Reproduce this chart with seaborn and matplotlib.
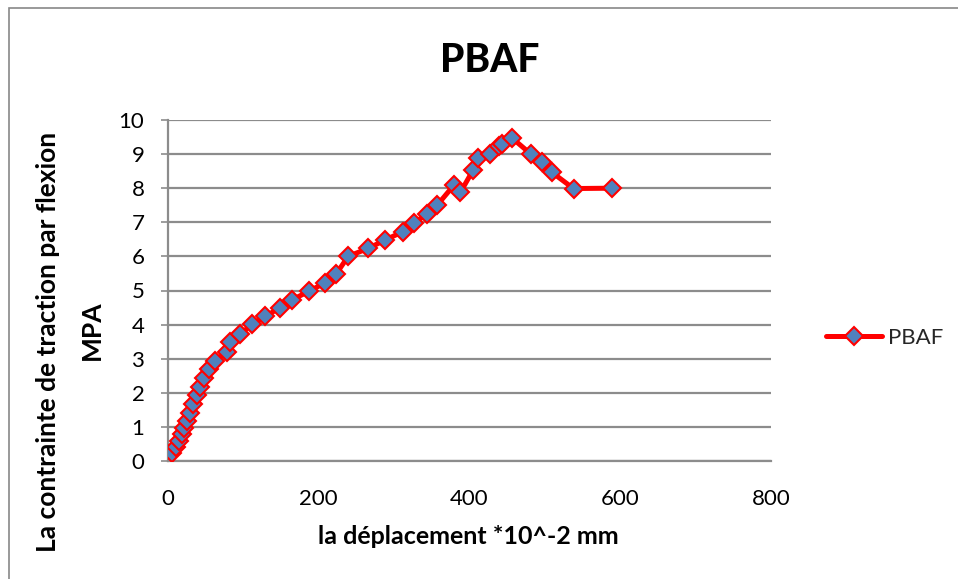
import matplotlib
matplotlib.use("Agg")
import matplotlib.pyplot as plt
import pandas as pd
import seaborn as sns
from matplotlib.patches import Rectangle

# Displacement (x 10^-2 mm) and flexural tensile stress (MPa)
deplacement = [5, 10, 15, 18, 21, 25, 29, 33, 38, 43, 48, 54, 62, 78, 82, 96,
               112, 129, 149, 165, 187, 208, 223, 239, 266, 288, 312, 326,
               344, 357, 379, 388, 405, 411, 427, 439, 443, 456, 482, 496,
               509, 538, 589]
contrainte = [0.22, 0.42, 0.6, 0.78, 0.97, 1.17, 1.42, 1.68, 1.94, 2.17, 2.43,
              2.7, 2.93, 3.2, 3.5, 3.72, 4.02, 4.24, 4.5, 4.73, 4.98, 5.22,
              5.48, 6.0, 6.24, 6.48, 6.73, 6.98, 7.24, 7.5, 8.08, 7.88, 8.54,
              8.88, 9.0, 9.24, 9.3, 9.48, 8.99, 8.76, 8.47, 7.99, 8.0]
serie = "PBAF"

x_ticks = [0, 200, 400, 600, 800]
y_ticks = list(range(0, 11))

df = pd.DataFrame({"deplacement": deplacement, "contrainte": contrainte})

sns.set_theme(style="white")
plt.rcParams["font.family"] = ["Lato", "DejaVu Sans"]

W, H = 958, 579
fig = plt.figure(figsize=(W / 100, H / 100), dpi=100)
fig.patch.set_facecolor("white")

# chart frame
fig.patches.append(Rectangle((9 / W, -0.05), 1.2, 1 - 8 / H + 0.05,
                             transform=fig.transFigure, fill=False,
                             edgecolor="#888888", lw=1.2))

ax = fig.add_axes([168 / W, 1 - 461 / H, (771 - 168) / W, (461 - 120) / H])

sns.lineplot(data=df, x="deplacement", y="contrainte", sort=False,
             estimator=None, color="red", lw=3.6, marker="D", ms=9,
             mfc="#4F81BD", mec="red", mew=1.5, label=serie, ax=ax,
             zorder=3)

ax.set_xlim(0, 800)
ax.set_ylim(0, 10)
ax.set_xticks(x_ticks)
ax.set_yticks(y_ticks)
ax.set_xticklabels([str(t) for t in x_ticks], fontsize=16, color="black")
ax.set_yticklabels([str(t) for t in y_ticks], fontsize=16, color="black")

ax.yaxis.grid(True, color="#8c8c8c", lw=1.6)
ax.xaxis.grid(False)
ax.set_axisbelow(True)
for side in ("top", "right"):
    ax.spines[side].set_visible(False)
for side in ("left", "bottom"):
    ax.spines[side].set_color("#8c8c8c")
    ax.spines[side].set_linewidth(1.6)

ax.tick_params(axis="y", which="both", left=True, length=5, width=1.2,
               color="#8c8c8c", pad=12)
ax.tick_params(axis="x", which="both", bottom=False, pad=14)

ax.set_xlabel("")
ax.set_ylabel("")

# axis titles
fig.text(468 / W, 1 - 537 / H, "la déplacement *10^-2 mm", ha="center",
         va="center", fontsize=18, fontweight="bold", color="black")
fig.text(48 / W, 1 - 342 / H, "La contrainte de traction par flexion",
         ha="center", va="center", rotation=90, fontsize=19,
         fontweight="bold", color="black")
fig.text(92 / W, 1 - 330 / H, "MPA", ha="center", va="center", rotation=90,
         fontsize=19, fontweight="bold", color="black")

fig.text(490 / W, 1 - 60 / H, "PBAF", ha="center", va="center",
         fontsize=28, fontweight="black", color="black")

ax.legend(loc="center left", bbox_to_anchor=(826 / W, 1 - 338 / H),
          bbox_transform=fig.transFigure, frameon=False, fontsize=16,
          handlelength=2.5, handletextpad=0.3, borderaxespad=0,
          borderpad=0)

fig.savefig("out.png", dpi=100, facecolor="white")
